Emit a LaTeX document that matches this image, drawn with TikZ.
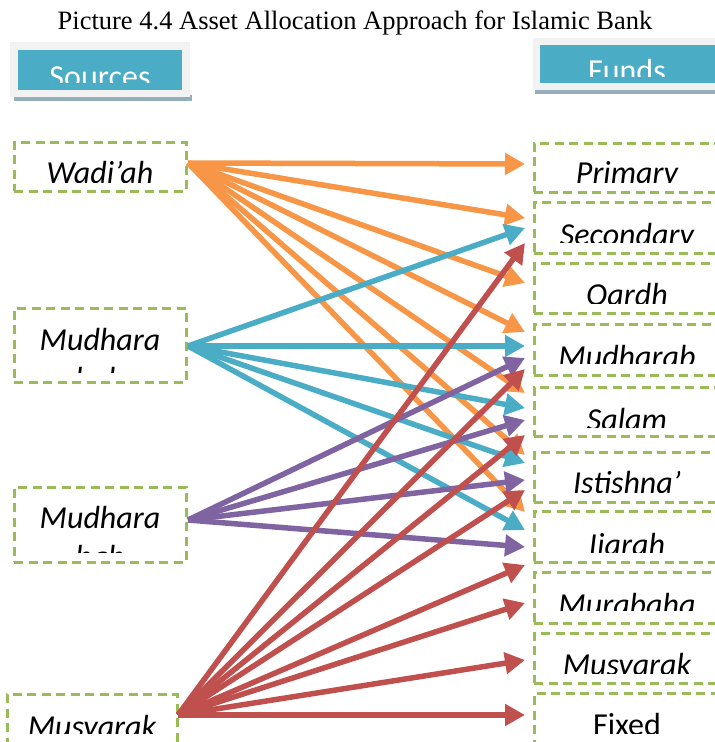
\documentclass[tikz,border=0pt]{standalone}
\usepackage{fontspec}
\setmainfont{Liberation Serif}
\newfontfamily\calfont{Carlito}
\usetikzlibrary{arrows.meta}
\definecolor{dgreen}{HTML}{9BBB59}
\definecolor{aorange}{HTML}{F79646}
\definecolor{ateal}{HTML}{4BACC6}
\definecolor{apurple}{HTML}{8064A2}
\definecolor{ared}{HTML}{C0504D}
\definecolor{hdrgrey}{HTML}{F2F2F2}
\definecolor{hdrshadow}{HTML}{94AEBA}
\begin{document}
\begin{tikzpicture}[x=1pt,y=-1pt,
  dbox/.style={draw=dgreen, line width=3pt, dash pattern=on 9pt off 5.5pt, inner sep=0pt, outer sep=0pt},
  lbl/.style={font=\calfont\itshape\fontsize{32}{38}\selectfont, inner sep=0pt, anchor=base},
  plainlbl/.style={font=\calfont\fontsize{32}{38}\selectfont, inner sep=0pt, anchor=base},
  hdrtxt/.style={font=\calfont\fontsize{32}{38}\selectfont, text=white, inner sep=0pt, anchor=base},
  conn/.style={line width=5.5pt, -{Triangle[length=20pt,width=21pt]}},
]
\useasboundingbox (0,0) rectangle (715,742);
\clip (0,0) rectangle (715,742);

% title
\node[font=\fontsize{26.5}{30}\selectfont, inner sep=0pt, anchor=base] (title) at (355,29) {Picture 4.4 Asset Allocation Approach for Islamic Bank};

% header boxes
\fill[hdrshadow] (14,95) rectangle (192,101);
\fill[hdrgrey] (10,42) rectangle (190,97);
\node[fill=ateal, minimum width=164pt, minimum height=40pt, inner sep=0pt] (sources) at (100,70) {};
\begin{scope}
  \clip (18,50) rectangle (182,82);
  \node[hdrtxt] (sourcesT) at (100,87) {Sources};
\end{scope}
\fill[hdrshadow] (535,88) rectangle (720,94);
\fill[hdrgrey] (533,38) rectangle (720,90);
\node[fill=ateal, minimum width=180pt, minimum height=38pt, inner sep=0pt] (funds) at (630,64) {};
\begin{scope}
  \clip (540,45) rectangle (720,76);
  \node[hdrtxt] (fundsT) at (627,81) {Funds};
\end{scope}

% left boxes
\node[dbox, minimum width=172pt, minimum height=49pt] (wadiah) at (100,166.5) {};
\begin{scope}
  \clip (14,142) rectangle (186,182);
  \node[lbl] (wadiahT) at (100,183) {Wadi’ah};
\end{scope}
\node[dbox, minimum width=172pt, minimum height=74pt] (mudA) at (100,345) {};
\begin{scope}
  \clip (14,308) rectangle (186,372);
  \node[lbl] (mudAT) at (100,350) {Mudhara};
  \node[lbl] (mudAT2) at (100,389) {bah};
\end{scope}
\node[dbox, minimum width=172pt, minimum height=75pt] (mudB) at (100,524.5) {};
\begin{scope}
  \clip (14,487) rectangle (186,552);
  \node[lbl] (mudBT) at (100,528) {Mudhara};
  \node[lbl] (mudBT2) at (100,567) {bah};
\end{scope}
\node[dbox, minimum width=170pt, minimum height=66pt] (musL) at (92,727) {};
\begin{scope}
  \clip (7,694) rectangle (177,733);
  \node[lbl] (musLT) at (92,737) {Musyarak};
\end{scope}

% right boxes
\node[dbox, minimum width=186pt, minimum height=49pt] (primary) at (627,167.5) {};
\begin{scope}
  \clip (534,143) rectangle (720,182);
  \node[lbl] (primaryT) at (627,183) {Primary};
\end{scope}
\node[dbox, minimum width=186pt, minimum height=51pt] (secondary) at (627,227.5) {};
\begin{scope}
  \clip (534,202) rectangle (720,242);
  \node[lbl] (secondaryT) at (627,245) {Secondary};
\end{scope}
\node[dbox, minimum width=186pt, minimum height=50pt] (qardh) at (627,288) {};
\begin{scope}
  \clip (534,263) rectangle (720,303);
  \node[lbl] (qardhT) at (627,305) {Qardh};
\end{scope}
\node[dbox, minimum width=186pt, minimum height=51pt] (mudR) at (627,349.5) {};
\begin{scope}
  \clip (534,324) rectangle (720,363);
  \node[lbl] (mudRT) at (627,367) {Mudharab};
\end{scope}
\node[dbox, minimum width=186pt, minimum height=49pt] (salam) at (627,411.5) {};
\begin{scope}
  \clip (534,387) rectangle (720,427);
  \node[lbl] (salamT) at (627,430) {Salam};
\end{scope}
\node[dbox, minimum width=186pt, minimum height=50pt] (istishna) at (627,477) {};
\begin{scope}
  \clip (534,452) rectangle (720,492);
  \node[lbl] (istishnaT) at (627,493) {Istishna’};
\end{scope}
\node[dbox, minimum width=186pt, minimum height=51pt] (ijarah) at (627,536.5) {};
\begin{scope}
  \clip (534,511) rectangle (720,552);
  \node[lbl] (ijarahT) at (627,555) {Ijarah};
\end{scope}
\node[dbox, minimum width=186pt, minimum height=51pt] (murabaha) at (627,597.5) {};
\begin{scope}
  \clip (534,572) rectangle (720,610);
  \node[lbl] (murabahaT) at (627,615) {Murabaha};
\end{scope}
\node[dbox, minimum width=186pt, minimum height=50pt] (musR) at (627,658) {};
\begin{scope}
  \clip (534,633) rectangle (720,673);
  \node[lbl] (musRT) at (627,675) {Musyarak};
\end{scope}
\node[dbox, minimum width=186pt, minimum height=60pt] (fixed) at (627,723) {};
\begin{scope}
  \clip (534,693) rectangle (720,733);
  \node[plainlbl] (fixedT) at (627,735) {Fixed};
\end{scope}

% connector start points
\coordinate (ws) at ([xshift=2pt,yshift=3.5pt]wadiah.east);
\coordinate (as) at ([xshift=2pt,yshift=-1pt]mudA.east);
\coordinate (bs) at ([xshift=2pt,yshift=4.5pt]mudB.east);
\coordinate (ms) at ([xshift=1pt,yshift=12pt]musL.east);

% tips
\coordinate (o1) at (525,164);
\coordinate (o2) at (525,218);
\coordinate (o3) at (525,283);
\coordinate (o4) at (525,332);
\coordinate (o5) at (525,393);
\coordinate (o6) at (525,455);
\coordinate (o7) at (525,512);
\coordinate (t1) at (525,228);
\coordinate (t2) at (525,346);
\coordinate (t3) at (525,408);
\coordinate (t4) at (525,463);
\coordinate (t5) at (525,530);
\coordinate (p1) at (525,358);
\coordinate (p2) at (525,420);
\coordinate (p3) at (525,480);
\coordinate (p4) at (525,547);
\coordinate (r1) at (525,243);
\coordinate (r2) at (525,369);
\coordinate (r3) at (525,435);
\coordinate (r4) at (525,490);
\coordinate (r5) at (525,565);
\coordinate (r6) at (525,603);
\coordinate (r7) at (525,660);
\coordinate (r8) at (525,715);

\foreach \e in {o1,o2,o3,o4,o5,o6,o7} \draw[conn, aorange] (ws) -- (\e);
\foreach \e in {t1,t2,t3,t4,t5} \draw[conn, ateal] (as) -- (\e);
\foreach \e in {p1,p2,p3,p4} \draw[conn, apurple] (bs) -- (\e);
\foreach \e in {r1,r2,r3,r4,r5,r6,r7,r8} \draw[conn, ared] (ms) -- (\e);
\end{tikzpicture}
\end{document}
